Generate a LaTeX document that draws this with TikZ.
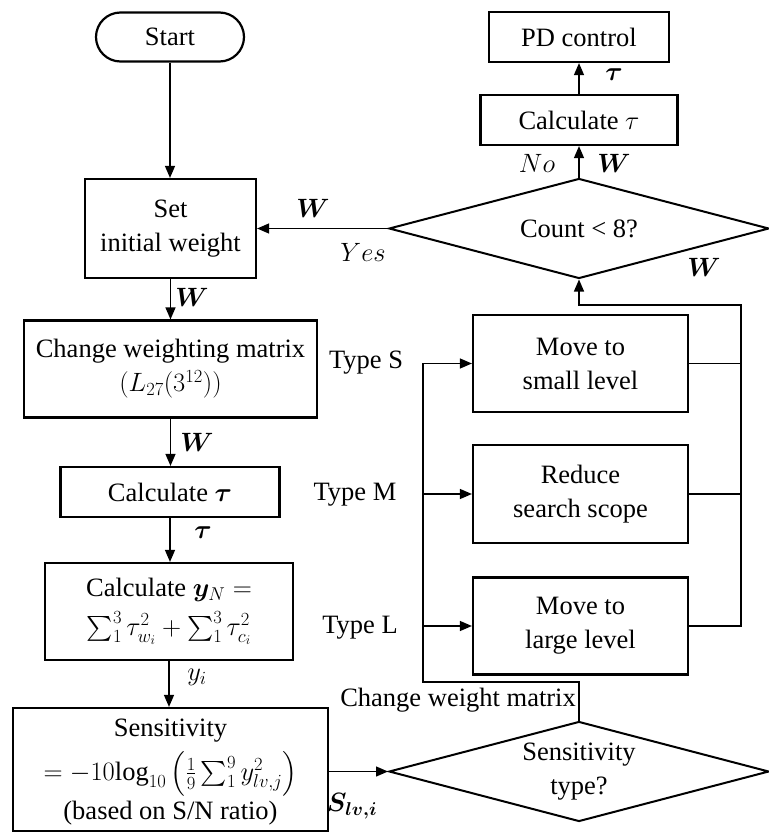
\RequirePackage{fix-cm}
\documentclass[tikz,border=0pt]{standalone}
\usepackage{fontspec}
\setmainfont{Liberation Serif}
\usepackage{amsmath,bm}
\usetikzlibrary{arrows.meta,shapes.geometric,shapes.misc}
\begin{document}
\begin{tikzpicture}[x=1pt,y=-1pt,
  txt/.style={font=\rmfamily\fontsize{26.5}{34}\selectfont},
  box/.style={txt,draw,line width=2.2pt,align=center,inner sep=0pt},
  term/.style={box,rounded rectangle},
  dec/.style={txt,draw,diamond,line width=2pt,inner sep=0pt,aspect=3.8,
    minimum width=380pt,minimum height=100pt,align=center},
  conn/.style={line width=1.3pt},
  arr/.style={conn,-{Triangle[length=12pt,width=10pt]}},
  lbl/.style={txt,inner sep=0pt}
]
\useasboundingbox (0,0) rectangle (768,832);

% left column
\node[term,minimum width=148pt,minimum height=49pt] (start) at (170,37) {Start};
\node[box,minimum width=171pt,minimum height=99pt] (set) at (170.5,228.5) {Set\\initial weight};
\node[box,minimum width=293pt,minimum height=97pt] (chg) at (170.5,369) {Change weighting matrix\\$(L_{27}(3^{12}))$};
\node[box,minimum width=219pt,minimum height=50pt] (calc) at (170,492) {Calculate $\bm{\tau}$};
\node[box,minimum width=248pt,minimum height=97pt] (yn) at (169,611.5) {Calculate $\bm{y}_N=$\\[5pt]$\sum_1^3\tau_{w_i}^2+\sum_1^3\tau_{c_i}^2$};
\node[box,minimum width=315pt,minimum height=123pt,text depth=0pt] (sens) at (170.5,769.5) {Sensitivity\\[8pt]$=-10\mathrm{log}_{10}\left(\frac{1}{9}\sum_1^9 y_{lv,j}^2\right)$\\[4pt](based on S/N ratio)};

% right column
\node[box,minimum width=180pt,minimum height=50pt] (pd) at (579,37) {PD control};
\node[box,minimum width=197pt,minimum height=50pt] (calc2) at (579,120) {Calculate $\tau$};
\node[dec] (count) at (579,228.5) {Count < 8?};
\node[box,minimum width=215pt,minimum height=97pt] (small) at (580.5,363.5) {Move to\\small level};
\node[box,minimum width=215pt,minimum height=98pt] (reduce) at (580.5,494) {Reduce\\search scope};
\node[box,minimum width=215pt,minimum height=97pt] (large) at (580.5,626) {Move to\\large level};
\node[dec] (stype) at (579,771.5) {Sensitivity\\type?};

% connectors left column
\draw[arr] (start.south) -- (start.south |- set.north);
\draw[arr] (set.south) -- (set.south |- chg.north);
\draw[arr] (chg.south) -- (chg.south |- calc.north);
\draw[arr] (calc.south) -- (calc.south |- yn.north);
\draw[arr] (yn.south) -- (yn.south |- sens.north);
\draw[arr] (sens.east |- stype.west) -- (stype.west);
\draw[arr] (count.west) -- (count.west -| set.east);

% right column
\draw[arr] (count.north) -- (calc2.south);
\draw[arr] (calc2.north) -- (pd.south);

\coordinate (lb) at (423,682);
\draw[arr] (stype.north) |- (lb) |- (small.west);
\draw[arr] (reduce.west -| lb) -- (reduce.west);
\draw[arr] (large.west -| lb) -- (large.west);

\coordinate (rb) at (741,305);
\draw[conn] (small.east) -- (small.east -| rb);
\draw[conn] (reduce.east) -- (reduce.east -| rb);
\draw[arr] (large.east) -| (rb) -| (count.south);

% labels
\node[lbl] (lw1) at (313,208) {$\bm{W}$};
\node[lbl] (lyes) at (363,252) {$Yes$};
\node[lbl] (lno) at (537,163) {$No$};
\node[lbl] (lw2) at (614,163) {$\bm{W}$};
\node[lbl] (ltau1) at (614,75) {$\bm{\tau}$};
\node[lbl] (lw3) at (704,267) {$\bm{W}$};
\node[lbl] (lw4) at (192,297) {$\bm{W}$};
\node[lbl] (lw5) at (197,442) {$\bm{W}$};
\node[lbl] (ltau2) at (203,533) {$\bm{\tau}$};
\node[lbl] (lyi) at (197,677) {$y_i$};
\node[lbl] (ls) at (352,806) {$\bm{S}_{\bm{lv,i}}$};
\node[lbl] (ts) at (366,363) {Type S};
\node[lbl] (tm) at (355,495) {Type M};
\node[lbl] (tl) at (360,628) {Type L};
\node[lbl,anchor=east] (cwm) at (576,700) {Change weight matrix};
\end{tikzpicture}
\end{document}
